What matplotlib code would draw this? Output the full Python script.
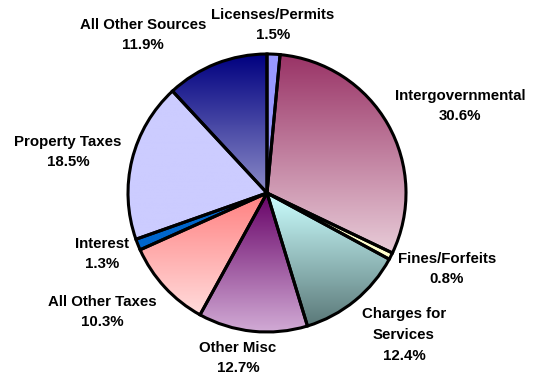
import numpy as np
import matplotlib.pyplot as plt
from matplotlib.colors import LinearSegmentedColormap

plt.rcParams['font.family'] = ['Liberation Sans', 'DejaVu Sans']

# revenue shares, clockwise from 12 o'clock
sources = ["Licenses/Permits", "Intergovernmental", "Fines/Forfeits",
           "Charges for\nServices", "Other Misc", "All Other Taxes",
           "Interest", "Property Taxes", "All Other Sources"]
shares = [1.5, 30.6, 0.8, 12.4, 12.7, 10.3, 1.3, 18.5, 11.9]

# (top colour, bottom colour) of each wedge's vertical gradient
fills = [("#9999ff", "#9999ff"), ("#993366", "#e8ccd8"), ("#ffffcc", "#ffffcc"),
         ("#ccffff", "#5a7878"), ("#660066", "#d2acd6"), ("#ff8080", "#ffdcdc"),
         ("#0066cc", "#0066cc"), ("#ccccff", "#ccccff"), ("#000080", "#8c8cc8")]

# label centres in pixels (x, y from top)
label_pos = [(273, 25), (460, 106), (447, 269), (404, 335), (238, 358),
             (102, 312), (102, 254), (68, 152), (143, 35)]

W, H = 533, 377
fig = plt.figure(figsize=(W / 100, H / 100), dpi=100)
ax = fig.add_axes([0, 0, 1, 1])

cx, cy, r = 267, H - 193, 139
wedges, _ = ax.pie(shares, startangle=90, counterclock=False, center=(cx, cy),
                   radius=r, frame=True,
                   wedgeprops=dict(edgecolor='black', linewidth=2.2, facecolor='none'))
ax.set_xlim(0, W)
ax.set_ylim(0, H)
ax.set_aspect('equal')
ax.axis('off')

for w, (top, bottom) in zip(wedges, fills):
    ys = w.get_path().vertices[:, 1]
    y0, y1 = ys.min(), ys.max()
    cmap = LinearSegmentedColormap.from_list('g', [bottom, top])
    grad = np.linspace(0, 1, 256).reshape(-1, 1)
    im = ax.imshow(grad, cmap=cmap, origin='lower', aspect='auto',
                   extent=(cx - r - 2, cx + r + 2, y0, y1), zorder=w.get_zorder() - 0.1)
    im.set_clip_path(w)

for name, val, (x, y) in zip(sources, shares, label_pos):
    ax.text(x, H - y, f"{name}\n{val:.1f}%", ha='center', va='center',
            fontsize=10.8, fontweight='bold', linespacing=1.6)

fig.savefig("out.png", dpi=100)
